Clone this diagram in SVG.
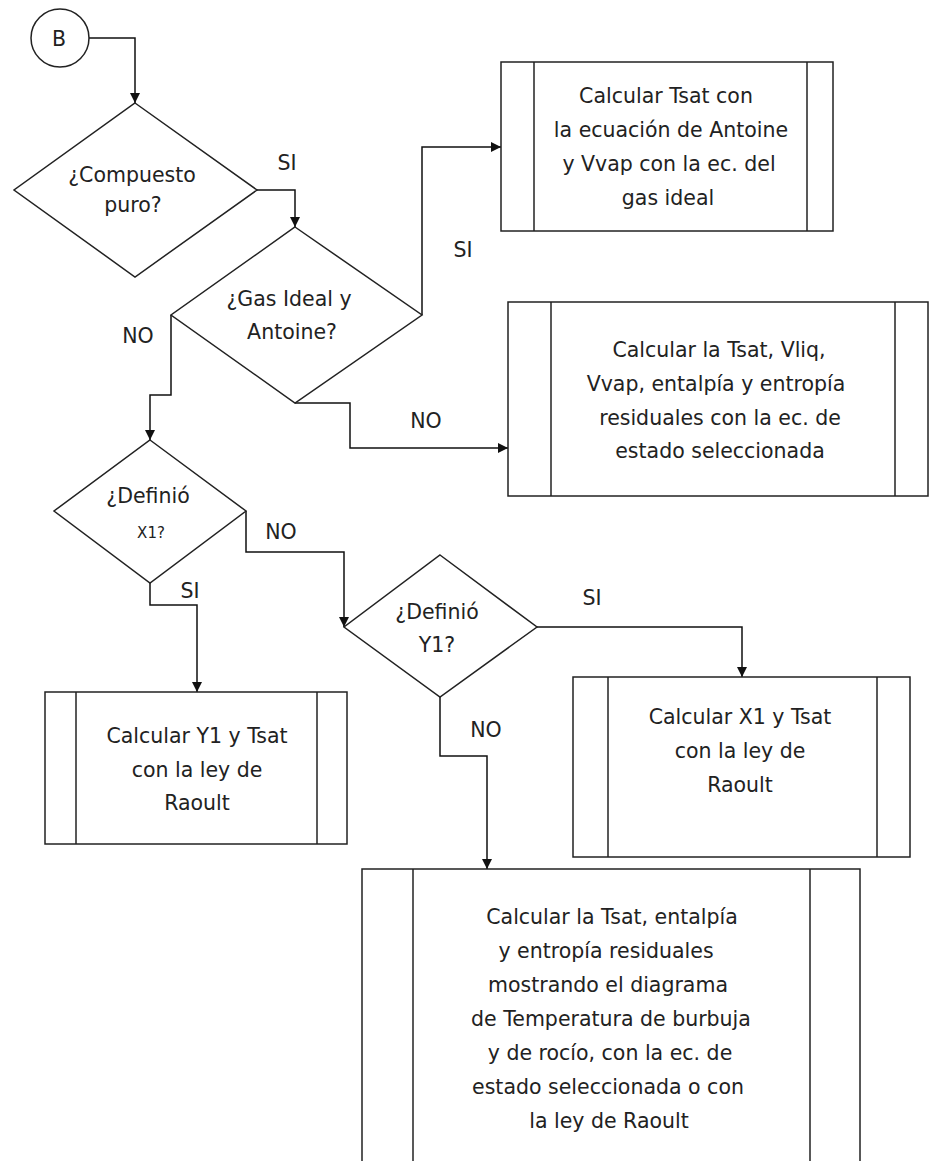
<svg xmlns="http://www.w3.org/2000/svg" width="929" height="1161" viewBox="0 0 929 1161">
<defs>
<marker id="arr" viewBox="0 0 10 10" refX="10" refY="5" markerWidth="10" markerHeight="10" markerUnits="userSpaceOnUse" orient="auto">
<path d="M0,0 L10,5 L0,10 Z" fill="#111"/>
</marker>
</defs>
<style>
.shape{fill:#fff;stroke:#222;stroke-width:1.5}
.line{fill:none;stroke:#222;stroke-width:1.5}
.conn{fill:none;stroke:#111;stroke-width:1.5;marker-end:url(#arr)}
text{font-family:"DejaVu Sans","Liberation Sans",sans-serif;font-size:20.5px;fill:#222;text-anchor:middle}
.small{font-size:15px}
</style>
<rect width="929" height="1161" fill="#fff"/>
<g id="connectors">
<polyline class="conn" points="89,38 135,38 135,103"/>
<polyline class="conn" points="257,190 295,190 295,227"/>
<polyline class="conn" points="422,315 422,147 501,147"/>
<polyline class="conn" points="295,403 350,403 350,448 508,448"/>
<polyline class="conn" points="171,315 171,395 150,395 150,440"/>
<polyline class="conn" points="246,511 246,552 344,552 344,627"/>
<polyline class="conn" points="150,583 150,605 197,605 197,692"/>
<polyline class="conn" points="537,627 742,627 742,677"/>
<polyline class="conn" points="440,697 440,756 487,756 487,869"/>
<text x="287" y="170">SI</text>
<text x="463" y="257">SI</text>
<text x="426" y="428">NO</text>
<text x="138" y="343">NO</text>
<text x="281" y="539">NO</text>
<text x="190" y="598">SI</text>
<text x="592" y="605">SI</text>
<text x="486" y="737">NO</text>
</g>
<g id="start">
<circle class="shape" cx="60" cy="38" r="29"/>
<text x="59" y="46">B</text>
</g>
<g id="d1">
<polygon class="shape" points="135,103 257,190 135,277 14,190"/>
<text x="132" y="182">¿Compuesto</text>
<text x="133" y="212">puro?</text>
</g>
<g id="d2">
<polygon class="shape" points="295,227 422,315 295,403 171,315"/>
<text x="289" y="306">¿Gas Ideal y</text>
<text x="292" y="339">Antoine?</text>
</g>
<g id="box1">
<rect class="shape" x="501" y="62" width="332" height="169"/>
<line class="line" x1="534" y1="62" x2="534" y2="231"/>
<line class="line" x1="807" y1="62" x2="807" y2="231"/>
<text x="666" y="103">Calcular Tsat con</text>
<text x="671" y="137">la ecuación de Antoine</text>
<text x="669" y="171">y Vvap con la ec. del</text>
<text x="668" y="205">gas ideal</text>
</g>
<g id="box2">
<rect class="shape" x="508" y="302" width="420" height="194"/>
<line class="line" x1="551" y1="302" x2="551" y2="496"/>
<line class="line" x1="895" y1="302" x2="895" y2="496"/>
<text x="719" y="357">Calcular la Tsat, Vliq,</text>
<text x="716" y="391">Vvap, entalpía y entropía</text>
<text x="720" y="425">residuales con la ec. de</text>
<text x="720" y="458">estado seleccionada</text>
</g>
<g id="d3">
<polygon class="shape" points="150,440 246,511 150,583 54,511"/>
<text x="148" y="503">¿Definió</text>
<text class="small" x="151" y="538">X1?</text>
</g>
<g id="d4">
<polygon class="shape" points="440,555 537,627 440,697 344,627"/>
<text x="437" y="619">¿Definió</text>
<text x="437" y="652">Y1?</text>
</g>
<g id="box3">
<rect class="shape" x="45" y="692" width="302" height="152"/>
<line class="line" x1="76" y1="692" x2="76" y2="844"/>
<line class="line" x1="317" y1="692" x2="317" y2="844"/>
<text x="197" y="743">Calcular Y1 y Tsat</text>
<text x="197" y="777">con la ley de</text>
<text x="197" y="810">Raoult</text>
</g>
<g id="box4">
<rect class="shape" x="573" y="677" width="337" height="180"/>
<line class="line" x1="608" y1="677" x2="608" y2="857"/>
<line class="line" x1="877" y1="677" x2="877" y2="857"/>
<text x="740" y="724">Calcular X1 y Tsat</text>
<text x="740" y="758">con la ley de</text>
<text x="740" y="792">Raoult</text>
</g>
<g id="box5">
<rect class="shape" x="362" y="869" width="498" height="310"/>
<line class="line" x1="413" y1="869" x2="413" y2="1170"/>
<line class="line" x1="810" y1="869" x2="810" y2="1170"/>
<text x="612" y="924">Calcular la Tsat, entalpía</text>
<text x="606" y="958">y entropía residuales</text>
<text x="608" y="992">mostrando el diagrama</text>
<text x="611" y="1026">de Temperatura de burbuja</text>
<text x="610" y="1060">y de rocío, con la ec. de</text>
<text x="608" y="1094">estado seleccionada o con</text>
<text x="609" y="1128">la ley de Raoult</text>
</g>
</svg>
